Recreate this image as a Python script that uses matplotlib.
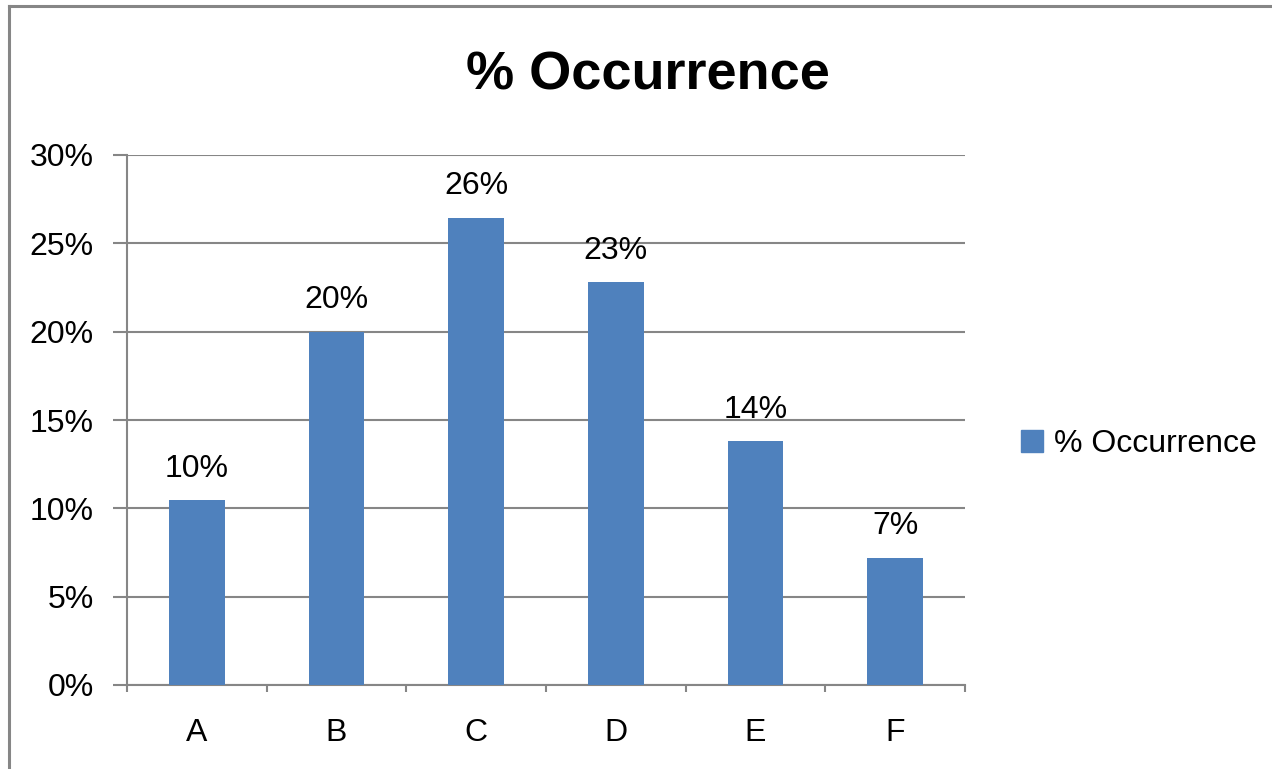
import matplotlib
matplotlib.use("Agg")
import matplotlib.pyplot as plt
from matplotlib.lines import Line2D
from matplotlib.patches import Patch

categories = ["A", "B", "C", "D", "E", "F"]
values = [10.45, 19.98, 26.43, 22.8, 13.8, 7.19]
labels = ["10%", "20%", "26%", "23%", "14%", "7%"]
yticks = [0, 5, 10, 15, 20, 25, 30]
ytick_labels = ["0%", "5%", "10%", "15%", "20%", "25%", "30%"]
series_name = "% Occurrence"

plt.rcParams['font.family'] = ['Liberation Sans', 'DejaVu Sans']
W, H = 1272, 769
fig = plt.figure(figsize=(W / 100, H / 100), dpi=100)
gray = "#868686"
bar_color = "#4F81BD"
fs = 23

ax = fig.add_axes([127 / W, (H - 685) / H, (965 - 127) / W, (685 - 155) / H])
x = list(range(len(categories)))
ax.bar(x, values, width=0.4, color=bar_color, zorder=3)
for xi, v, lab in zip(x, values, labels):
    ax.annotate(lab, (xi, v), xytext=(0, 12), textcoords="offset points",
                ha="center", va="bottom", fontsize=fs)

ax.set_xlim(-0.5, len(categories) - 0.5)
ax.set_ylim(0, 30)
ax.set_yticks(yticks)
ax.set_yticklabels(ytick_labels, fontsize=fs)
ax.yaxis.grid(True, color=gray, linewidth=1.5, zorder=0)
ax.set_xticks([i - 0.5 for i in range(len(categories) + 1)])
ax.set_xticklabels([])
ax.set_xticks(x, minor=True)
ax.set_xticklabels(categories, minor=True, fontsize=fs)
ax.tick_params(axis="x", which="major", length=5, width=1.5, color=gray, direction="out")
ax.tick_params(axis="x", which="minor", length=0, pad=24)
ax.tick_params(axis="y", length=10, width=1.5, color=gray, direction="out", pad=14)
for s in ["top", "right"]:
    ax.spines[s].set_visible(False)
for s in ["left", "bottom"]:
    ax.spines[s].set_color(gray)
    ax.spines[s].set_linewidth(1.5)

fig.text(648 / W, 1 - 76 / H, series_name, ha="center", va="center",
         fontsize=39, fontweight="bold")

fig.legend(handles=[Patch(color=bar_color, label=series_name)],
           loc="center left", bbox_to_anchor=(1008 / W, 1 - 444 / H),
           frameon=False, fontsize=fs, handlelength=0.7, handleheight=0.7,
           handletextpad=0.35, borderaxespad=0)

fig.add_artist(Line2D([9 / W, 9 / W], [0, 1 - 6 / H], color=gray, linewidth=2.2,
                      transform=fig.transFigure))
fig.add_artist(Line2D([9 / W, 1], [1 - 6 / H, 1 - 6 / H], color=gray, linewidth=2.2,
                      transform=fig.transFigure))

fig.savefig("out.png", dpi=100)
